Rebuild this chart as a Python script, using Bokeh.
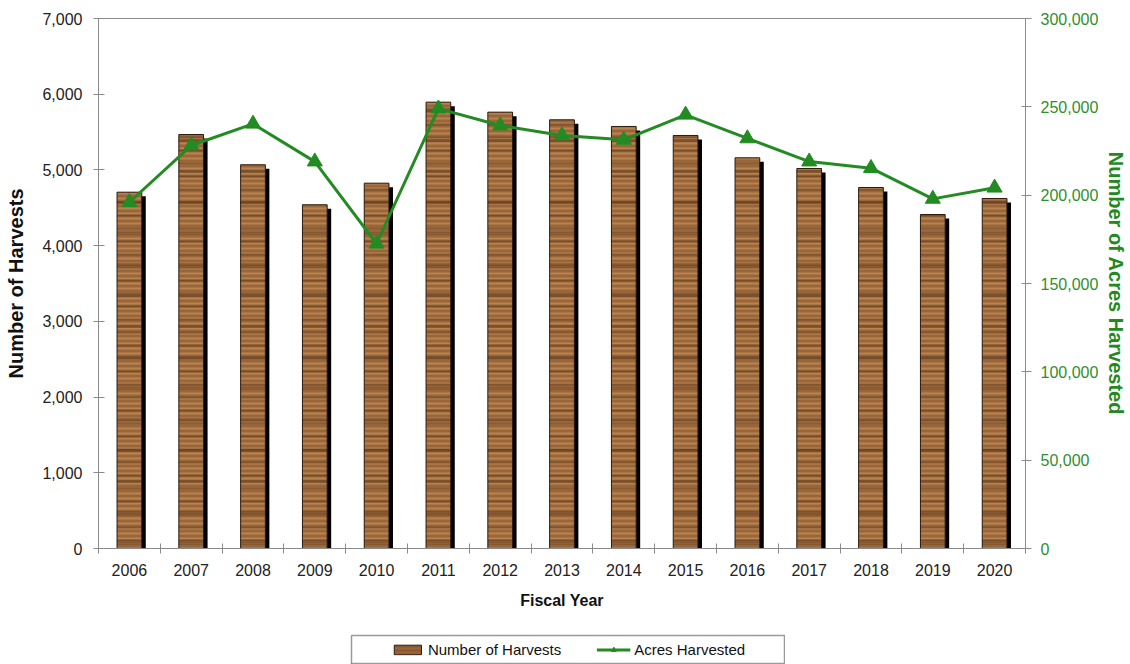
from bokeh.plotting import figure
from bokeh.models import (Range1d, LinearAxis, FixedTicker, SingleIntervalTicker,
                          NumeralTickFormatter, Legend, LegendItem, ColumnDataSource, Spacer)
from bokeh.layouts import column, row
from bokeh.embed import file_html
from bokeh.resources import INLINE

years = [2006, 2007, 2008, 2009, 2010, 2011, 2012, 2013, 2014, 2015, 2016, 2017, 2018, 2019, 2020]
harvests = [4706, 5468, 5068, 4540, 4825, 5895, 5763, 5662, 5574, 5455, 5160, 5019, 4768, 4411, 4623]
acres = [196000, 228100, 240400, 219000, 172500, 249000, 239400, 233800, 231300, 245500, 232100, 219000, 215300, 197900, 204200]

FONT = "Liberation Sans"
GREEN = "#228B22"
AXIS_GRAY = "#8a8a8a"
WOOD = "#9a6639"
WOOD_DARK = "#4e2f16"
WOOD_LIGHT = "#cf9d62"

p = figure(width=1130, height=634, x_range=Range1d(years[0] - 0.5, years[-1] + 0.5),
           y_range=Range1d(0, 7000), output_backend="svg", toolbar_location=None,
           min_border_left=98, min_border_right=102, min_border_top=18, min_border_bottom=86)
p.extra_y_ranges = {"acres": Range1d(0, 300000)}
p.xgrid.visible = False
p.ygrid.visible = False
p.outline_line_color = AXIS_GRAY
p.background_fill_color = "white"

src = ColumnDataSource(dict(
    x=years, h=harvests,
    xs=[y + 0.065 for y in years], hs=[v - 53 for v in harvests],
    a=acres))

# shadow
p.vbar(x="xs", top="hs", bottom=0, width=0.40, source=src, fill_color="black", line_color=None)
# wood bars (layered horizontal grain)
p.vbar(x="x", top="h", bottom=0, width=0.40, source=src, fill_color=WOOD, line_color=None,
       hatch_pattern="horizontal_line", hatch_color=WOOD_LIGHT, hatch_alpha=0.55,
       hatch_scale=5, hatch_weight=2)
p.vbar(x="x", top="h", bottom=0, width=0.40, source=src, fill_alpha=0, line_color=None,
       hatch_pattern="horizontal_line", hatch_color=WOOD_DARK, hatch_alpha=0.45,
       hatch_scale=13, hatch_weight=2)
p.vbar(x="x", top="h", bottom=0, width=0.40, source=src, fill_alpha=0, line_color="#2b1a0e",
       line_width=1, hatch_pattern="horizontal_line", hatch_color=WOOD_DARK, hatch_alpha=0.4,
       hatch_scale=31, hatch_weight=3)

p.line(x="x", y="a", source=src, y_range_name="acres", line_color=GREEN, line_width=3)
p.scatter(x="x", y="a", source=src, y_range_name="acres", marker="triangle", size=15,
          fill_color=GREEN, line_color=GREEN)

# x axis
xa = p.xaxis[0]
xa.ticker = FixedTicker(ticks=years, minor_ticks=[years[0] - 0.5] + [y + 0.5 for y in years])
xa.formatter = NumeralTickFormatter(format="0")
xa.major_tick_line_color = None
xa.major_tick_in = 0
xa.major_tick_out = 0
xa.minor_tick_in = 5
xa.minor_tick_out = 5
xa.minor_tick_line_color = AXIS_GRAY
xa.axis_line_color = AXIS_GRAY
xa.major_label_standoff = 10
xa.major_label_text_font = FONT
xa.major_label_text_font_size = "16px"
xa.major_label_text_color = "#222222"
xa.axis_label = "Fiscal Year"
xa.axis_label_text_font = FONT
xa.axis_label_text_font_size = "16px"
xa.axis_label_text_font_style = "bold"
xa.axis_label_text_color = "#111111"
xa.axis_label_standoff = 13

# left axis
ya = p.yaxis[0]
ya.ticker = SingleIntervalTicker(interval=1000, num_minor_ticks=0)
ya.formatter = NumeralTickFormatter(format="0,0")
ya.axis_line_color = AXIS_GRAY
ya.major_tick_line_color = AXIS_GRAY
ya.major_tick_in = 6
ya.major_tick_out = 5
ya.minor_tick_line_color = None
ya.major_label_standoff = 11
ya.major_label_text_font = FONT
ya.major_label_text_font_size = "16px"
ya.major_label_text_color = "#222222"
ya.axis_label = "Number of Harvests"
ya.axis_label_text_font = FONT
ya.axis_label_text_font_size = "20px"
ya.axis_label_text_font_style = "bold"
ya.axis_label_text_color = "#111111"
ya.axis_label_standoff = 12

# right axis
ra = LinearAxis(y_range_name="acres", ticker=SingleIntervalTicker(interval=50000, num_minor_ticks=0),
                formatter=NumeralTickFormatter(format="0,0"))
ra.axis_line_color = AXIS_GRAY
ra.major_tick_line_color = AXIS_GRAY
ra.major_tick_in = 4
ra.major_tick_out = 6
ra.minor_tick_line_color = None
ra.major_label_standoff = 9
ra.major_label_text_font = FONT
ra.major_label_text_font_size = "16px"
ra.major_label_text_color = "#2f8f2f"
ra.axis_label = "Number of Acres Harvested"
ra.axis_label_text_font = FONT
ra.axis_label_text_font_size = "20px"
ra.axis_label_text_font_style = "bold"
ra.axis_label_text_color = "#1f8a1f"
ra.axis_label_standoff = 4
p.add_layout(ra, "right")

# legend box (separate small figure; its renderers sit outside the visible range)
lg = figure(width=435, height=30, x_range=Range1d(0, 1), y_range=Range1d(0, 1),
            output_backend="svg", toolbar_location=None, min_border=1)
lg.axis.visible = False
lg.grid.visible = False
lg.outline_line_color = "#9a9a9a"
lg.outline_line_width = 1.5
dummy = ColumnDataSource(dict(x=[-10], h=[-10], a=[-10]))
rb = lg.vbar(x="x", top="h", bottom=-11, width=0.4, source=dummy, fill_color=WOOD,
             line_color="#2b1a0e", hatch_pattern="horizontal_line", hatch_color=WOOD_DARK,
             hatch_alpha=0.5, hatch_scale=4, hatch_weight=1)
rl = lg.line(x="x", y="a", source=dummy, line_color=GREEN, line_width=3)
rs = lg.scatter(x="x", y="a", source=dummy, marker="triangle", size=11, fill_color=GREEN, line_color=GREEN)
legend = Legend(items=[LegendItem(label="Number of Harvests", renderers=[rb]),
                       LegendItem(label="Acres Harvested", renderers=[rl, rs])],
                orientation="horizontal", location="center", border_line_color=None,
                background_fill_alpha=0, spacing=35, glyph_width=34, glyph_height=12,
                label_standoff=4, padding=0, margin=0,
                label_text_font=FONT, label_text_font_size="15px", label_text_color="#111111")
lg.add_layout(legend, "center")

layout = column(p, row(Spacer(width=350, height=30), lg), spacing=0)
open("out.html", "w").write(file_html(layout, INLINE))
